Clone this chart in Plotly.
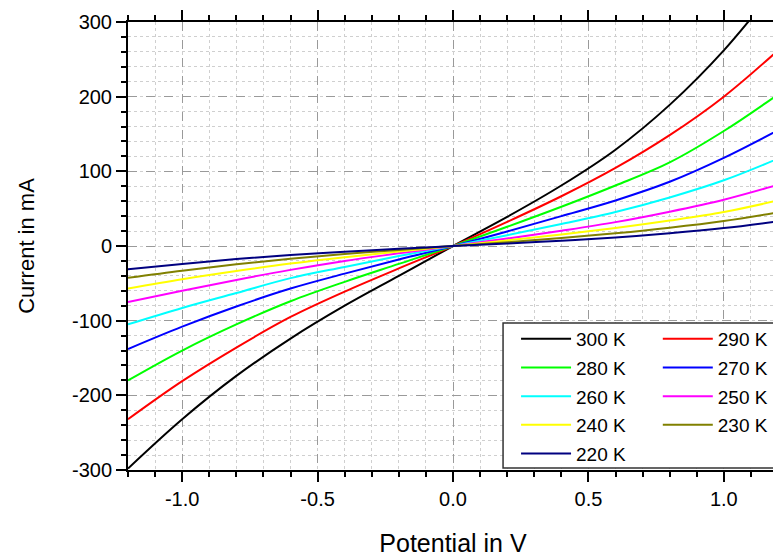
import plotly.graph_objects as go

potential = [-1.2, -1.0, -0.8, -0.6, -0.4, -0.2, 0.0, 0.2, 0.4, 0.6, 0.8, 1.0, 1.2]

temps = ["300 K", "290 K", "280 K", "270 K", "260 K", "250 K", "240 K", "230 K", "220 K"]
colors = ["#000000", "#ff0000", "#00ff00", "#0000ff", "#00ffff", "#ff00ff", "#ffff00", "#808000", "#000080"]

i_300 = [-298, -232, -174, -124, -80, -40, 0, 39, 81, 129, 189, 262, 350]
i_290 = [-232, -181, -136, -95, -61, -30, 0, 32.3, 66.6, 104.6, 148.5, 200, 262]
i_280 = [-180, -140, -105, -74, -48, -24, 0, 25.7, 52.5, 81, 112, 154, 203]
i_270 = [-138, -108, -81, -57, -37, -18, 0, 19.5, 40, 61, 86, 118, 155]
i_260 = [-105, -83, -63, -43, -28, -13.5, 0, 14.5, 29.5, 45.5, 65, 88, 117]
i_250 = [-75, -60, -45.5, -32, -20, -9.8, 0, 10, 20.5, 32, 46, 62, 82]
i_240 = [-57, -44.5, -33.5, -23.5, -15, -7.5, 0, 7.5, 15.3, 24, 34, 45.5, 61]
i_230 = [-42.5, -33, -24.5, -17, -10.8, -5.3, 0, 5.1, 10.6, 17, 24.5, 33.5, 45]
i_220 = [-31, -24, -17.5, -12, -7.8, -3.8, 0, 3.3, 7, 11.3, 17, 24, 33]

currents = [i_300, i_290, i_280, i_270, i_260, i_250, i_240, i_230, i_220]

x_ticks = [-1.0, -0.5, 0.0, 0.5, 1.0]
x_labels = ["-1.0", "-0.5", "0.0", "0.5", "1.0"]
y_ticks = [-300, -200, -100, 0, 100, 200, 300]
y_labels = ["-300", "-200", "-100", "0", "100", "200", "300"]

FONT = "Liberation Sans, Arial"

fig = go.Figure()
for k, (name, col, cur) in enumerate(zip(temps, colors, currents)):
    fig.add_trace(go.Scatter(
        x=potential, y=cur, name=name, mode="lines",
        line=dict(color=col, width=2, shape="spline"),
        legend="legend" if k % 2 == 0 else "legend2",
        legendgroup=name,
    ))

axis_common = dict(
    showline=True, linecolor="black", linewidth=2, mirror="ticks",
    ticks="outside", ticklen=10, tickwidth=2, tickcolor="black",
    showgrid=True, gridcolor="#9a9a9a", griddash="dash", gridwidth=1,
    zeroline=False, automargin=False,
    tickfont=dict(family=FONT, size=20, color="black"),
)

fig.update_xaxes(
    range=[-1.2, 1.2], tickvals=x_ticks, ticktext=x_labels,
    minor=dict(dtick=0.1, tick0=0, ticks="outside", ticklen=5, tickwidth=1.5,
               tickcolor="black", showgrid=True, gridcolor="#cfcfcf", griddash="dot"),
    title=dict(text="Potential in V", font=dict(family=FONT, size=25, color="black"), standoff=25),
    **axis_common,
)
fig.update_yaxes(
    range=[-300, 300], tickvals=y_ticks, ticktext=y_labels,
    minor=dict(dtick=20, tick0=0, ticks="outside", ticklen=5, tickwidth=1.5,
               tickcolor="black", showgrid=True, gridcolor="#cfcfcf", griddash="dot"),
    title=dict(text="Current in mA", font=dict(family=FONT, size=22, color="black"), standoff=31),
    **axis_common,
)

legend_common = dict(
    bgcolor="rgba(0,0,0,0)", borderwidth=0, orientation="v",
    font=dict(family=FONT, size=19, color="black"),
    yanchor="top", y=0.335, tracegroupgap=1, itemwidth=50,
)

# page body has an 8px margin: figure is sized/margined so the plot lands in place
fig.update_layout(
    width=773, height=550,
    margin=dict(l=120, r=3, t=14, b=88),
    plot_bgcolor="white", paper_bgcolor="white",
    legend=dict(x=0.597, xanchor="left", **legend_common),
    legend2=dict(x=0.992, xanchor="right", **legend_common),
    shapes=[dict(type="rect", xref="paper", yref="paper",
                 x0=0.577, x1=0.997, y0=0.0045, y1=0.328,
                 line=dict(color="#333333", width=1.5), fillcolor="white", layer="above")],
)

fig.write_html("out.html")
